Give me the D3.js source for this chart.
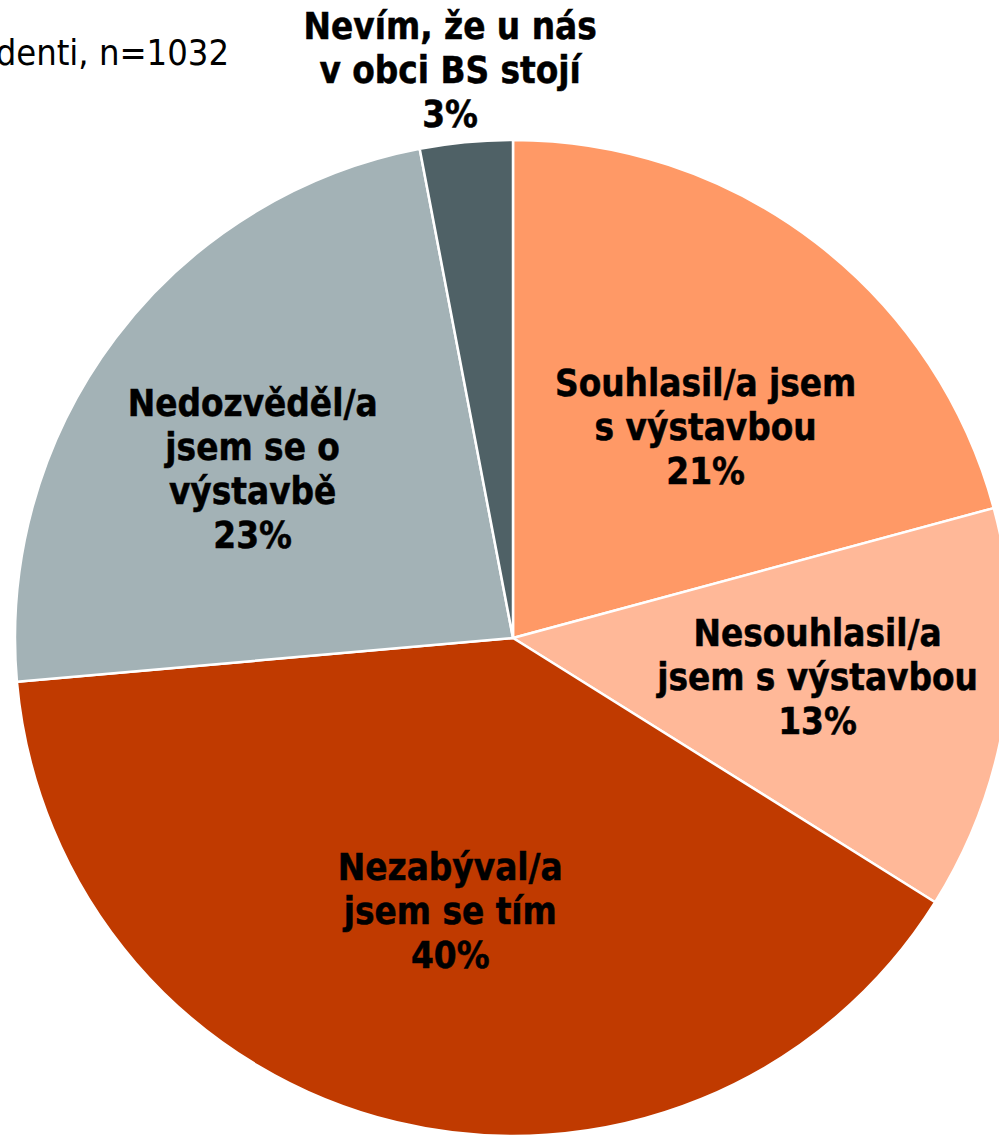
<!DOCTYPE html>
<html>
<head>
<meta charset="utf-8">
<script src="https://cdn.jsdelivr.net/npm/d3@7"></script>
<style>
  body { margin: 0; background: #fff; }
  svg { display: block; }
  .slice-label { font-family: "DejaVu Sans Condensed", "DejaVu Sans", sans-serif; font-weight: bold; font-size: 36.5px; fill: #000; stroke: #000; stroke-width: 0.5px; }
  .note { font-family: "DejaVu Sans Condensed", "DejaVu Sans", sans-serif; font-size: 36px; fill: #000; }
</style>
</head>
<body>
<svg id="chart"></svg>
<script>
// answers, clockwise from 12 o'clock
const categories = [
  'Souhlasil/a jsem s výstavbou',
  'Nesouhlasil/a jsem s výstavbou',
  'Nezabýval/a jsem se tím',
  'Nedozvěděl/a jsem se o výstavbě',
  'Nevím, že u nás v obci BS stojí'
];
// shares in % (labels show them rounded)
const shares = [20.8, 13.1, 39.7, 23.4, 3.0];
// how each label wraps, like in the original
const labelLines = [
  ['Souhlasil/a jsem', 's výstavbou'],
  ['Nesouhlasil/a', 'jsem s výstavbou'],
  ['Nezabýval/a', 'jsem se tím'],
  ['Nedozvěděl/a', 'jsem se o', 'výstavbě'],
  ['Nevím, že u nás', 'v obci BS stojí']
];
const colors = ['#FF9966', '#FFB898', '#C03A00', '#A3B2B6', '#4F6166'];
const note = 'Respondenti, n=1032';

const config = {
  width: 999,
  height: 1135,
  cx: 513,
  cy: 638,
  radius: 498,
  lineHeight: 44
};

// label placement: radius factor + small nudge (px), per slice
const labelLayout = [
  { k: 0.6, dx: 11, dy: 27 },
  { k: 0.6, dx: 9, dy: -4 },
  { k: 0.6, dx: 7, dy: -17 },
  { k: 0.6, dx: -22, dy: 12 },
  { k: 1.15, dx: -9, dy: 3 }
];

const data = categories.map((c, i) => ({ name: c, value: shares[i], lines: labelLines[i] }));

const svg = d3.select('#chart')
  .attr('width', config.width)
  .attr('height', config.height);

const g = svg.append('g')
  .attr('transform', `translate(${config.cx},${config.cy})`);

const color = d3.scaleOrdinal().domain(categories).range(colors);

const pie = d3.pie().sort(null).value(d => d.value);
const arcs = pie(data);

const arc = d3.arc().innerRadius(0).outerRadius(config.radius);

g.selectAll('.slice')
  .data(arcs)
  .join('path')
  .attr('class', 'slice')
  .attr('d', arc)
  .attr('fill', d => color(d.data.name))
  .attr('stroke', '#fff')
  .attr('stroke-width', 2.5)
  .attr('stroke-linejoin', 'round');

// labels
arcs.forEach((d, i) => {
  const lay = labelLayout[i];
  const r = config.radius * lay.k;
  const c = d3.arc().innerRadius(r).outerRadius(r).centroid(d);
  const x = c[0] + lay.dx;
  const y = c[1] + lay.dy;
  const lines = d.data.lines.concat([Math.round(d.data.value) + '%']);
  const n = lines.length;
  // vertical centre of the block sits at y; 12px ~ half the cap height
  const firstBaseline = y + 12 - (n - 1) / 2 * config.lineHeight;

  const t = g.append('text')
    .attr('class', 'slice-label')
    .attr('text-anchor', 'middle');
  lines.forEach((ln, j) => {
    t.append('tspan')
      .attr('x', x)
      .attr('y', firstBaseline + j * config.lineHeight)
      .text(ln);
  });
});

svg.append('text')
  .attr('class', 'note')
  .attr('x', 229)
  .attr('y', 65)
  .attr('text-anchor', 'end')
  .text(note);
</script>
</body>
</html>
